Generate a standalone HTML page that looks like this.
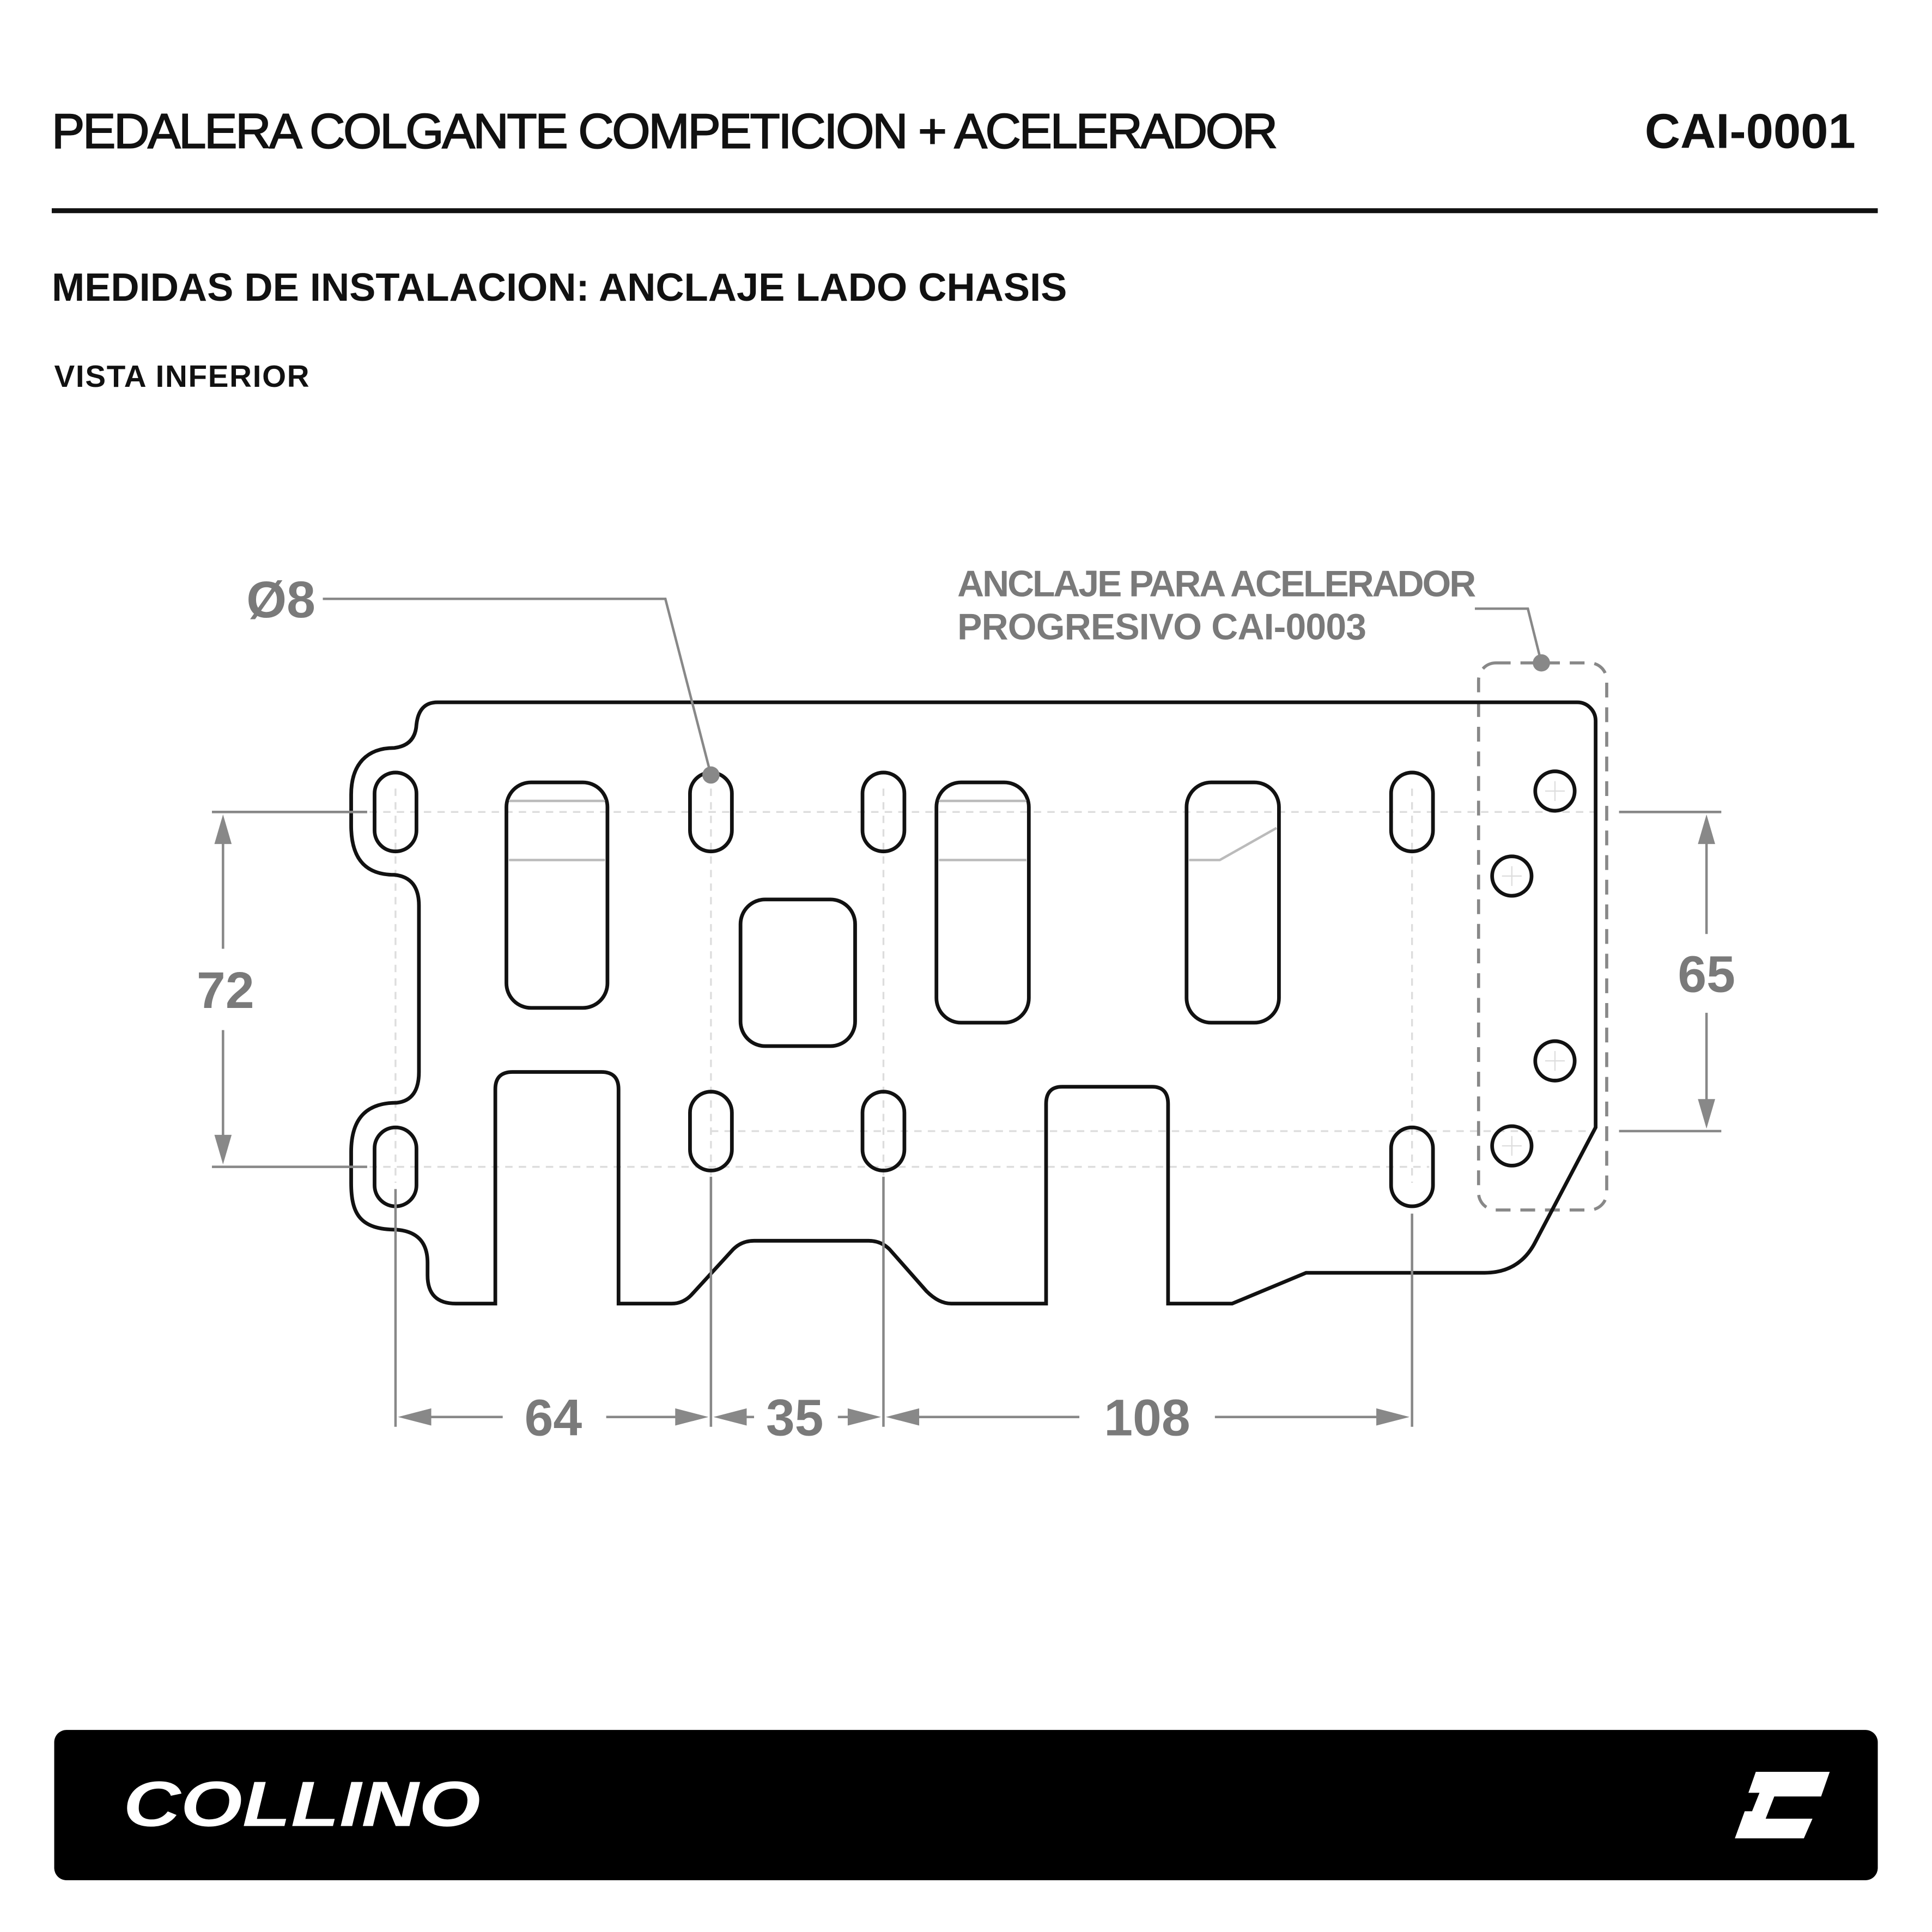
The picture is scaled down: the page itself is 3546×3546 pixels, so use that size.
<!DOCTYPE html>
<html><head><meta charset="utf-8"><style>
html,body{margin:0;padding:0;background:#fff}
svg{display:block}
</style></head><body>
<svg width="3546" height="3546" viewBox="0 0 1568 1568" xmlns="http://www.w3.org/2000/svg">
<rect width="1568" height="1568" fill="#fff"/>
<g font-family="Liberation Sans, sans-serif">
<text x="42" y="120" font-size="40" font-weight="400" stroke="#111" stroke-width="0.9" fill="#111" textLength="995">PEDALERA COLGANTE COMPETICION + ACELERADOR</text>
<text x="1506" y="120" font-size="40" font-weight="700" fill="#111" text-anchor="end">CAI-0001</text>
<rect x="42" y="169" width="1482" height="4" fill="#111"/>
<text x="42" y="244" font-size="32" font-weight="700" fill="#111" textLength="824">MEDIDAS DE INSTALACION: ANCLAJE LADO CHASIS</text>
<text x="44" y="314" font-size="25" font-weight="700" fill="#111" textLength="207">VISTA INFERIOR</text>
</g>
<g stroke="#ddd" stroke-width="1.5" stroke-dasharray="6,5" fill="none">
<line x1="300" y1="659" x2="1300" y2="659"/>
<line x1="300" y1="947" x2="1160" y2="947"/>
<line x1="577" y1="918" x2="1295" y2="918"/>
<line x1="321" y1="640" x2="321" y2="960"/>
<line x1="577" y1="640" x2="577" y2="960"/>
<line x1="717" y1="640" x2="717" y2="960"/>
<line x1="1146" y1="640" x2="1146" y2="960"/>
</g>
<rect x="1200" y="538" width="104" height="444" rx="14" fill="none" stroke="#888" stroke-width="2.5" stroke-dasharray="12,8"/>
<path d="M355,570 H1280 A15,15 0 0 1 1295,585 V915 L1245,1010 Q1232,1033 1205,1033 H1060 L1000,1058 H948 V896 Q948,882 935,882 H862 Q849,882 849,896 V1058 H772 Q762,1058 752,1048 L722,1014 Q715,1007 705,1007 H612 Q602,1007 595,1014 L562,1050 Q555,1058 545,1058 H502 V884 Q502,870 488,870 H416 Q402,870 402,884 V1058 H370 Q347,1058 347,1035 V1025 Q347,1000 322,998 C292,998 285,985 285,960 V935 C285,905 300,895 322,895 Q340,893 340,870 V735 Q340,712 320,710 C295,710 285,695 285,670 V645 C285,620 298,607 320,607 Q337,605 338,588 Q340,570 355,570 Z" fill="none" stroke="#111" stroke-width="3"/>
<g fill="none" stroke="#111" stroke-width="3">
<rect x="304" y="627" width="34" height="64" rx="17"/>
<rect x="560" y="627" width="34" height="64" rx="17"/>
<rect x="700" y="627" width="34" height="64" rx="17"/>
<rect x="1129" y="627" width="34" height="64" rx="17"/>
<rect x="304" y="915" width="34" height="64" rx="17"/>
<rect x="560" y="886" width="34" height="64" rx="17"/>
<rect x="700" y="886" width="34" height="64" rx="17"/>
<rect x="1129" y="915" width="34" height="64" rx="17"/>
<rect x="411" y="635" width="82" height="183" rx="20"/>
<rect x="760" y="635" width="75" height="195" rx="20"/>
<rect x="963" y="635" width="75" height="195" rx="20"/>
<rect x="601" y="730" width="93" height="119" rx="20"/>
<circle cx="1262" cy="642" r="16"/>
<circle cx="1227" cy="711" r="16"/>
<circle cx="1262" cy="861" r="16"/>
<circle cx="1227" cy="930" r="16"/>
</g>
<g stroke="#bbb" stroke-width="2" fill="none">
<line x1="413" y1="650" x2="491" y2="650"/><line x1="413" y1="698" x2="491" y2="698"/>
<line x1="762" y1="650" x2="833" y2="650"/><line x1="762" y1="698" x2="833" y2="698"/>
<polyline points="965,698 990,698 1036,672"/>
</g>
<g stroke="#ddd" stroke-width="1">
<line x1="1254" y1="642" x2="1270" y2="642"/><line x1="1262" y1="634" x2="1262" y2="650"/>
<line x1="1219" y1="711" x2="1235" y2="711"/><line x1="1227" y1="703" x2="1227" y2="719"/>
<line x1="1254" y1="861" x2="1270" y2="861"/><line x1="1262" y1="853" x2="1262" y2="869"/>
<line x1="1219" y1="930" x2="1235" y2="930"/><line x1="1227" y1="922" x2="1227" y2="938"/>
</g>
<g stroke="#888" stroke-width="2" fill="none">
<line x1="172" y1="659" x2="298" y2="659"/><line x1="172" y1="947" x2="298" y2="947"/>
<line x1="181" y1="665" x2="181" y2="770"/><line x1="181" y1="836" x2="181" y2="941"/>
<line x1="1314" y1="659" x2="1397" y2="659"/><line x1="1314" y1="918" x2="1397" y2="918"/>
<line x1="1385" y1="665" x2="1385" y2="758"/><line x1="1385" y1="822" x2="1385" y2="912"/>
<line x1="321" y1="965" x2="321" y2="1158"/><line x1="577" y1="955" x2="577" y2="1158"/>
<line x1="717" y1="955" x2="717" y2="1158"/><line x1="1146" y1="985" x2="1146" y2="1158"/>
<line x1="327" y1="1150" x2="408" y2="1150"/><line x1="492" y1="1150" x2="571" y2="1150"/>
<line x1="583" y1="1150" x2="612" y2="1150"/><line x1="680" y1="1150" x2="711" y2="1150"/>
<line x1="723" y1="1150" x2="876" y2="1150"/><line x1="986" y1="1150" x2="1140" y2="1150"/>
<polyline points="262,486 540,486 577,629"/>
<polyline points="1197,494 1240,494 1251,538"/>
</g>
<g fill="#888">
<polygon points="181,661 174,685 188,685"/><polygon points="181,945 174,921 188,921"/>
<polygon points="1385,661 1378,685 1392,685"/><polygon points="1385,916 1378,892 1392,892"/>
<polygon points="323,1150 350,1143 350,1157"/><polygon points="575,1150 548,1143 548,1157"/>
<polygon points="579,1150 606,1143 606,1157"/><polygon points="715,1150 688,1143 688,1157"/>
<polygon points="719,1150 746,1143 746,1157"/><polygon points="1144,1150 1117,1143 1117,1157"/>
<circle cx="577" cy="629" r="7"/><circle cx="1251" cy="538" r="7"/>
</g>
<g font-family="Liberation Sans, sans-serif" font-weight="700" fill="#7a7a7a" text-anchor="middle" font-size="42">
<text x="183" y="818">72</text>
<text x="1385" y="805">65</text>
<text x="449" y="1165">64</text>
<text x="645" y="1165">35</text>
<text x="931" y="1165">108</text>
<text x="228" y="501">Ø8</text>
</g>
<g font-family="Liberation Sans, sans-serif" font-weight="700" fill="#7a7a7a" font-size="30">
<text x="777" y="484" textLength="421">ANCLAJE PARA ACELERADOR</text>
<text x="777" y="519" textLength="332">PROGRESIVO CAI-0003</text>
</g>
<rect x="44" y="1404" width="1480" height="122" rx="10" fill="#000"/>
<text x="100" y="1482" font-family="Liberation Sans, sans-serif" font-weight="900" font-style="italic" font-size="52" fill="#fff" textLength="290" lengthAdjust="spacingAndGlyphs">COLLINO</text>
<path d="M1425,1438 H1485 L1478,1458 H1440 L1433,1476 H1471 L1464,1492 H1408 L1416,1470 H1422 L1428,1455 H1419 Z" fill="#fff"/>
</svg>
</body></html>
